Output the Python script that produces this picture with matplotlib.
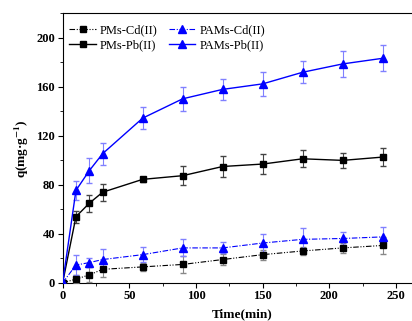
import matplotlib
matplotlib.use("Agg")
import matplotlib.pyplot as plt
from matplotlib.ticker import MultipleLocator

plt.rcParams['font.family'] = ['Liberation Serif', 'DejaVu Serif']
plt.rcParams['mathtext.fontset'] = 'stix'

time = [0, 10, 20, 30, 60, 90, 120, 150, 180, 210, 240]

pms_cd = [0, 3, 6.5, 11, 13, 15, 19, 23, 26, 28.5, 30.5]
pms_cd_err = [0, 3, 6, 6, 3, 7, 4.5, 4, 3, 4, 7]

pams_cd = [0, 14.5, 16.5, 19, 23, 28.5, 28.5, 32.5, 35.5, 36.2, 37.5]
pams_cd_err = [0, 8, 4, 9, 6, 7, 4.5, 7, 9, 5.5, 8]

pms_pb = [0, 54, 65, 74, 84.5, 87.5, 95, 97, 101.3, 100, 102.7]
pms_pb_err = [0, 5, 7, 7, 2, 8, 8.5, 8, 7, 6, 7.5]

pams_pb = [0, 75.5, 91.6, 105.5, 134.5, 150.3, 158, 162.5, 172, 178.8, 183.4]
pams_pb_err = [0, 8, 10, 9, 9, 10, 8.5, 9.5, 9, 10.5, 10.5]

fig = plt.figure(figsize=(4.12, 3.21), dpi=100)
ax = fig.add_axes([0.152, 0.119, 0.874, 0.839])

blue = '#0000ff'
c1 = ax.errorbar(time, pms_cd, yerr=pms_cd_err, color='black', ls=(0, (5, 1.5, 1, 1.5, 1, 1.5)),
                 lw=0.8, marker='s', ms=4, capsize=2, elinewidth=0.8, ecolor='#888888', zorder=3)
c2 = ax.errorbar(time, pms_pb, yerr=pms_pb_err, color='black', ls='-', lw=1.0, marker='s',
                 ms=4.8, capsize=2.5, elinewidth=0.8, ecolor='#444444', zorder=3)
c3 = ax.errorbar(time, pams_cd, yerr=pams_cd_err, color=blue, ls=(0, (5, 1.5, 1, 1.5)), lw=0.8,
                 marker='^', ms=5.5, capsize=2.5, elinewidth=0.8, ecolor='#8080ff', zorder=3)
c4 = ax.errorbar(time, pams_pb, yerr=pams_pb_err, color=blue, ls='-', lw=1.0, marker='^',
                 ms=6, capsize=2.5, elinewidth=0.8, ecolor='#8080ff', zorder=3)

ax.set_xlim(0, 270)
ax.set_ylim(0, 220)
ax.xaxis.set_major_locator(MultipleLocator(50))
ax.xaxis.set_minor_locator(MultipleLocator(25))
ax.yaxis.set_major_locator(MultipleLocator(40))
ax.yaxis.set_minor_locator(MultipleLocator(20))
ax.tick_params(which='major', direction='out', length=3.5, width=0.8, labelsize=9, pad=2)
ax.tick_params(which='minor', direction='out', length=2, width=0.6)
for lab in ax.get_xticklabels() + ax.get_yticklabels():
    lab.set_fontweight('bold')

ax.set_ylabel('q(mg·g$^{\\mathbf{-1}}$)', fontsize=9.5, fontweight='bold', labelpad=4)
ax.set_xlabel('Time(min)', fontsize=9.5, fontweight='bold', labelpad=4)

handles = [c1.lines[0], c2.lines[0], c3.lines[0], c4.lines[0]]
labels = ['PMs-Cd(II)', 'PMs-Pb(II)', 'PAMs-Cd(II)', 'PAMs-Pb(II)']
leg = ax.legend(handles, labels, loc='upper left', ncol=2, frameon=False, fontsize=9,
                bbox_to_anchor=(0.0, 0.985), handlelength=2.1, handletextpad=0.35,
                columnspacing=0.9, labelspacing=0.2, borderaxespad=0.15)

fig.savefig('out.png', dpi=100)
